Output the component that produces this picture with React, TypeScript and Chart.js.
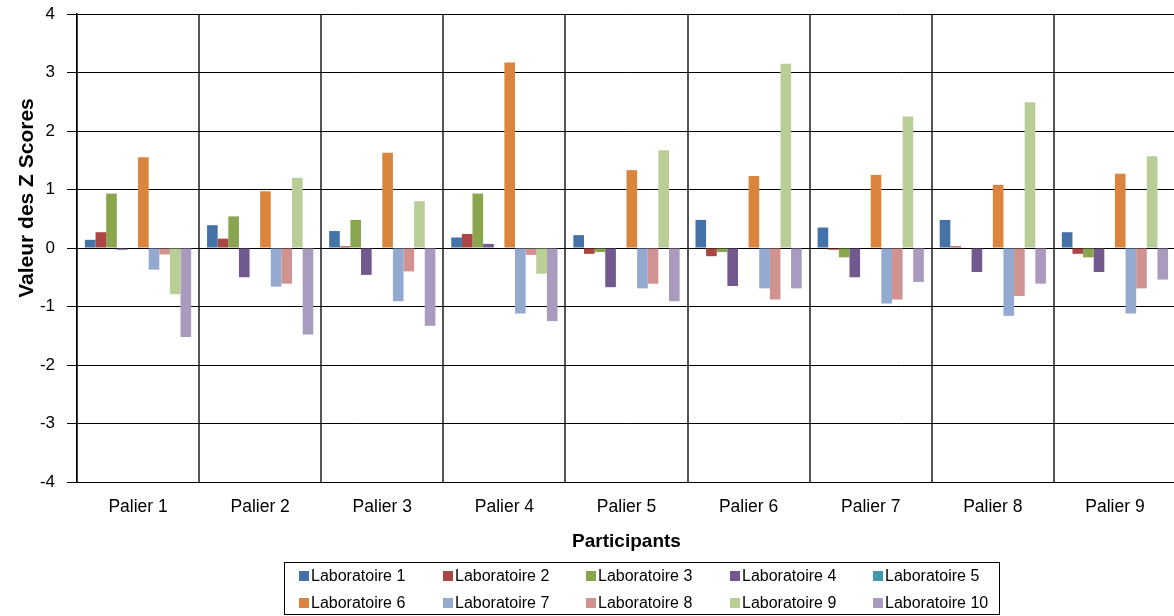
import React, { useEffect, useRef } from 'react';
import { Chart, registerables } from 'chart.js';

Chart.register(...registerables);

const categories = ['Palier 1', 'Palier 2', 'Palier 3', 'Palier 4', 'Palier 5', 'Palier 6', 'Palier 7', 'Palier 8', 'Palier 9'];
const seriesNames = ['Laboratoire 1', 'Laboratoire 2', 'Laboratoire 3', 'Laboratoire 4', 'Laboratoire 5', 'Laboratoire 6', 'Laboratoire 7', 'Laboratoire 8', 'Laboratoire 9', 'Laboratoire 10'];
const lab1 = [0.14, 0.39, 0.29, 0.18, 0.22, 0.48, 0.35, 0.48, 0.27];
const lab2 = [0.27, 0.16, 0.03, 0.24, -0.10, -0.14, -0.03, 0.03, -0.10];
const lab3 = [0.93, 0.54, 0.48, 0.93, -0.07, -0.07, -0.16, 0, -0.16];
const lab4 = [-0.03, -0.50, -0.46, 0.07, -0.67, -0.65, -0.50, -0.41, -0.41];
const lab5 = [0, 0, 0, 0, 0, 0, 0, 0, 0];
const lab6 = [1.55, 0.97, 1.63, 3.17, 1.33, 1.23, 1.25, 1.08, 1.27];
const lab7 = [-0.37, -0.66, -0.91, -1.12, -0.69, -0.69, -0.95, -1.16, -1.12];
const lab8 = [-0.11, -0.61, -0.40, -0.12, -0.61, -0.88, -0.88, -0.82, -0.69];
const lab9 = [-0.79, 1.20, 0.80, -0.44, 1.67, 3.15, 2.25, 2.49, 1.57];
const lab10 = [-1.52, -1.48, -1.33, -1.25, -0.91, -0.69, -0.58, -0.61, -0.54];
const seriesValues = [lab1, lab2, lab3, lab4, lab5, lab6, lab7, lab8, lab9, lab10];
const colors = ['#4572A7', '#AA4643', '#89A54E', '#71588F', '#4198AF', '#DB843D', '#93A9CF', '#D19392', '#B9CD96', '#A99BBD'];
const yTitle = 'Valeur des Z Scores';
const xTitle = 'Participants';

const FONT = "'Liberation Sans', Arial, sans-serif";

const customPlugin = {
  id: 'customDecor',
  afterDraw(chart: any) {
    const ctx = chart.ctx;
    ctx.save();
    // Y axis title
    ctx.translate(27, 198);
    ctx.rotate(-Math.PI / 2);
    ctx.font = `bold 21px ${FONT}`;
    ctx.fillStyle = '#000';
    ctx.textAlign = 'center';
    ctx.textBaseline = 'middle';
    ctx.fillText(yTitle, 0, 0);
    ctx.restore();

    // Legend box
    ctx.save();
    ctx.strokeStyle = '#000';
    ctx.lineWidth = 1;
    ctx.strokeRect(284.5, 562.5, 715, 52);
    const cols = [299, 443, 586, 730, 873];
    const rows = [576, 603];
    ctx.font = `16px ${FONT}`;
    ctx.textAlign = 'left';
    ctx.textBaseline = 'middle';
    chart.data.datasets.forEach((ds: any, i: number) => {
      const x = cols[i % 5];
      const y = rows[Math.floor(i / 5)];
      ctx.fillStyle = ds.backgroundColor;
      ctx.fillRect(x, y - 5, 10, 10);
      ctx.fillStyle = '#000';
      ctx.fillText(ds.label, x + 12, y + 1);
    });
    ctx.restore();
  },
};

export default function App() {
  const ref = useRef<HTMLCanvasElement | null>(null);
  useEffect(() => {
    if (!ref.current) return;
    const chart = new Chart(ref.current, {
      type: 'bar',
      data: {
        labels: categories,
        datasets: seriesNames.map((name, i) => ({
          label: name,
          data: seriesValues[i],
          backgroundColor: colors[i],
          borderWidth: 0,
          categoryPercentage: 0.87,
          barPercentage: 1.0,
        })),
      },
      options: {
        responsive: false,
        animation: false,
        devicePixelRatio: 1,
        layout: { padding: { top: 14, right: 0, bottom: 59, left: 0 } },
        plugins: {
          legend: { display: false },
          tooltip: { enabled: false },
        },
        scales: {
          x: {
            offset: true,
            grid: {
              offset: true,
              drawTicks: false,
              color: (c: any) => (c.index === 0 ? '#000' : '#555'),
              lineWidth: (c: any) => (c.index === 0 ? 1.5 : 2),
            },
            border: { display: true, color: '#000', width: 1 },
            ticks: { color: '#000', font: { family: FONT, size: 17.5 }, padding: 15 },
            title: {
              display: true,
              text: xTitle,
              color: '#000',
              font: { family: FONT, size: 19, weight: 'bold' },
              padding: { top: 0, bottom: 4 },
            },
            afterFit: (s: any) => {
              s.height = 75;
              s.paddingLeft = 0;
              s.paddingRight = 0;
            },
          },
          y: {
            min: -4,
            max: 4,
            ticks: { stepSize: 1, color: '#000', font: { family: FONT, size: 17 }, padding: 12 },
            grid: { color: '#000', lineWidth: 1, tickLength: 10, drawTicks: true },
            border: { display: true, color: '#000', width: 1.5 },
            afterFit: (s: any) => {
              s.width = 77;
              s.paddingTop = 0;
              s.paddingBottom = 0;
            },
          },
        },
      },
      plugins: [customPlugin],
    });
    return () => chart.destroy();
  }, []);
  return (
    <div style={{ position: 'fixed', left: 0, top: 0, width: 1174, height: 616, overflow: 'hidden', background: '#fff' }}>
      <canvas ref={ref} width={1176} height={616} style={{ display: 'block' }} />
    </div>
  );
}
